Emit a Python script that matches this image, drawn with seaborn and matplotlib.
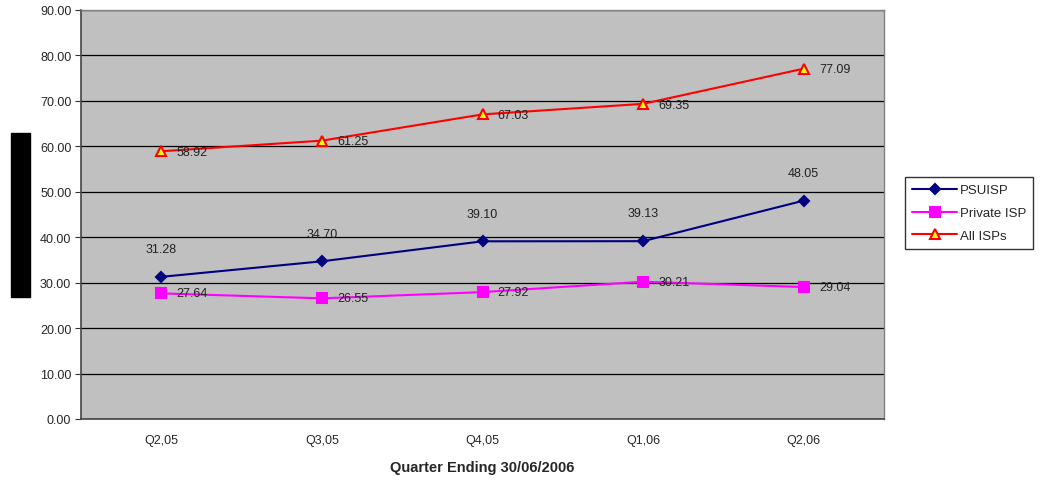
import numpy as np
import pandas as pd
import seaborn as sns
import matplotlib.pyplot as plt
from matplotlib.patches import Rectangle

quarters = ["Q2,05", "Q3,05", "Q4,05", "Q1,06", "Q2,06"]
psu_isp = [31.28, 34.70, 39.10, 39.13, 48.05]
private_isp = [27.64, 26.55, 27.92, 30.21, 29.04]
all_isps = [58.92, 61.25, 67.03, 69.35, 77.09]
series_names = ["PSUISP", "Private ISP", "All ISPs"]
y_ticks = np.arange(0, 100, 10)

sns.set_style("white")
plt.rcParams["font.family"] = ["Liberation Sans", "DejaVu Sans"]

df = pd.DataFrame({
    "quarter": quarters * 3,
    "pos": list(range(len(quarters))) * 3,
    "value": psu_isp + private_isp + all_isps,
    "series": sum([[n] * len(quarters) for n in series_names], []),
})

fig = plt.figure(figsize=(10.44, 4.81), dpi=100)
ax = fig.add_axes([81 / 1044, 1 - 420 / 481, 803 / 1044, 409 / 481])
ax.set_facecolor("#C0C0C0")

styles = {
    "PSUISP": dict(color="#000080", marker="D", mfc="#000080", mec="#000080", ms=5.5),
    "Private ISP": dict(color="#FF00FF", marker="s", mfc="#FF00FF", mec="#FF00FF", ms=6.5),
    "All ISPs": dict(color="#FF0000", marker="^", mfc="#FFFF00", mec="#FF0000", ms=7),
}

for name in series_names:
    sub = df[df["series"] == name]
    st = styles[name]
    sns.lineplot(data=sub, x="pos", y="value", ax=ax, color=st["color"], lw=1.5,
                 marker=st["marker"], markerfacecolor=st["mfc"],
                 markeredgecolor=st["mec"], markersize=st["ms"],
                 markeredgewidth=1.5, label=name, zorder=3)

# value labels
for i, v in enumerate(psu_isp):
    ax.annotate(f"{v:.2f}", (i, v), xytext=(0, 20), textcoords="offset points",
                ha="center", va="center", fontsize=9, color="#222222")
for i, v in enumerate(private_isp):
    ax.annotate(f"{v:.2f}", (i, v), xytext=(11, 0), textcoords="offset points",
                ha="left", va="center", fontsize=9, color="#222222")
for i, v in enumerate(all_isps):
    ax.annotate(f"{v:.2f}", (i, v), xytext=(11, -0.5), textcoords="offset points",
                ha="left", va="center", fontsize=9, color="#222222")

ax.set_xlim(-0.5, len(quarters) - 0.5)
ax.set_ylim(0, 90)
ax.set_yticks(y_ticks)
ax.set_yticklabels([f"{t:.2f}" for t in y_ticks], fontsize=9)
ax.set_xticks(range(len(quarters)))
ax.set_xticklabels(quarters, fontsize=9)
ax.tick_params(axis="x", length=0, pad=11)
ax.set_xticks(np.arange(-0.5, len(quarters), 1.0), minor=True)
ax.tick_params(axis="x", which="minor", length=4, direction="out", color="#333333")
ax.tick_params(axis="y", length=4, direction="out", color="#333333", left=True, pad=3)
ax.grid(axis="y", color="black", lw=0.9)
ax.set_axisbelow(True)
for s in ["left", "bottom"]:
    ax.spines[s].set_color("#444444")
    ax.spines[s].set_linewidth(1.2)
for s in ["top", "right"]:
    ax.spines[s].set_color("#808080")
    ax.spines[s].set_linewidth(1.0)

ax.set_xlabel("Quarter Ending 30/06/2006", fontsize=10.5, fontweight="bold", labelpad=10)
ax.set_ylabel("")

leg = ax.legend(loc="upper left", bbox_to_anchor=((905 - 81) / 803, 1 - (178 - 11) / 409),
                frameon=True, fancybox=False, fontsize=9.5, borderaxespad=0,
                handlelength=3.4, labelspacing=0.8, borderpad=0.55, handletextpad=0.2)
leg.get_frame().set_edgecolor("black")
leg.get_frame().set_linewidth(1.0)

# vertical axis title block
fig.patches.append(Rectangle((11 / 1044, 1 - 298 / 481), 19 / 1044, 164 / 481,
                             transform=fig.transFigure, color="black"))

fig.savefig("out.png", dpi=100)
